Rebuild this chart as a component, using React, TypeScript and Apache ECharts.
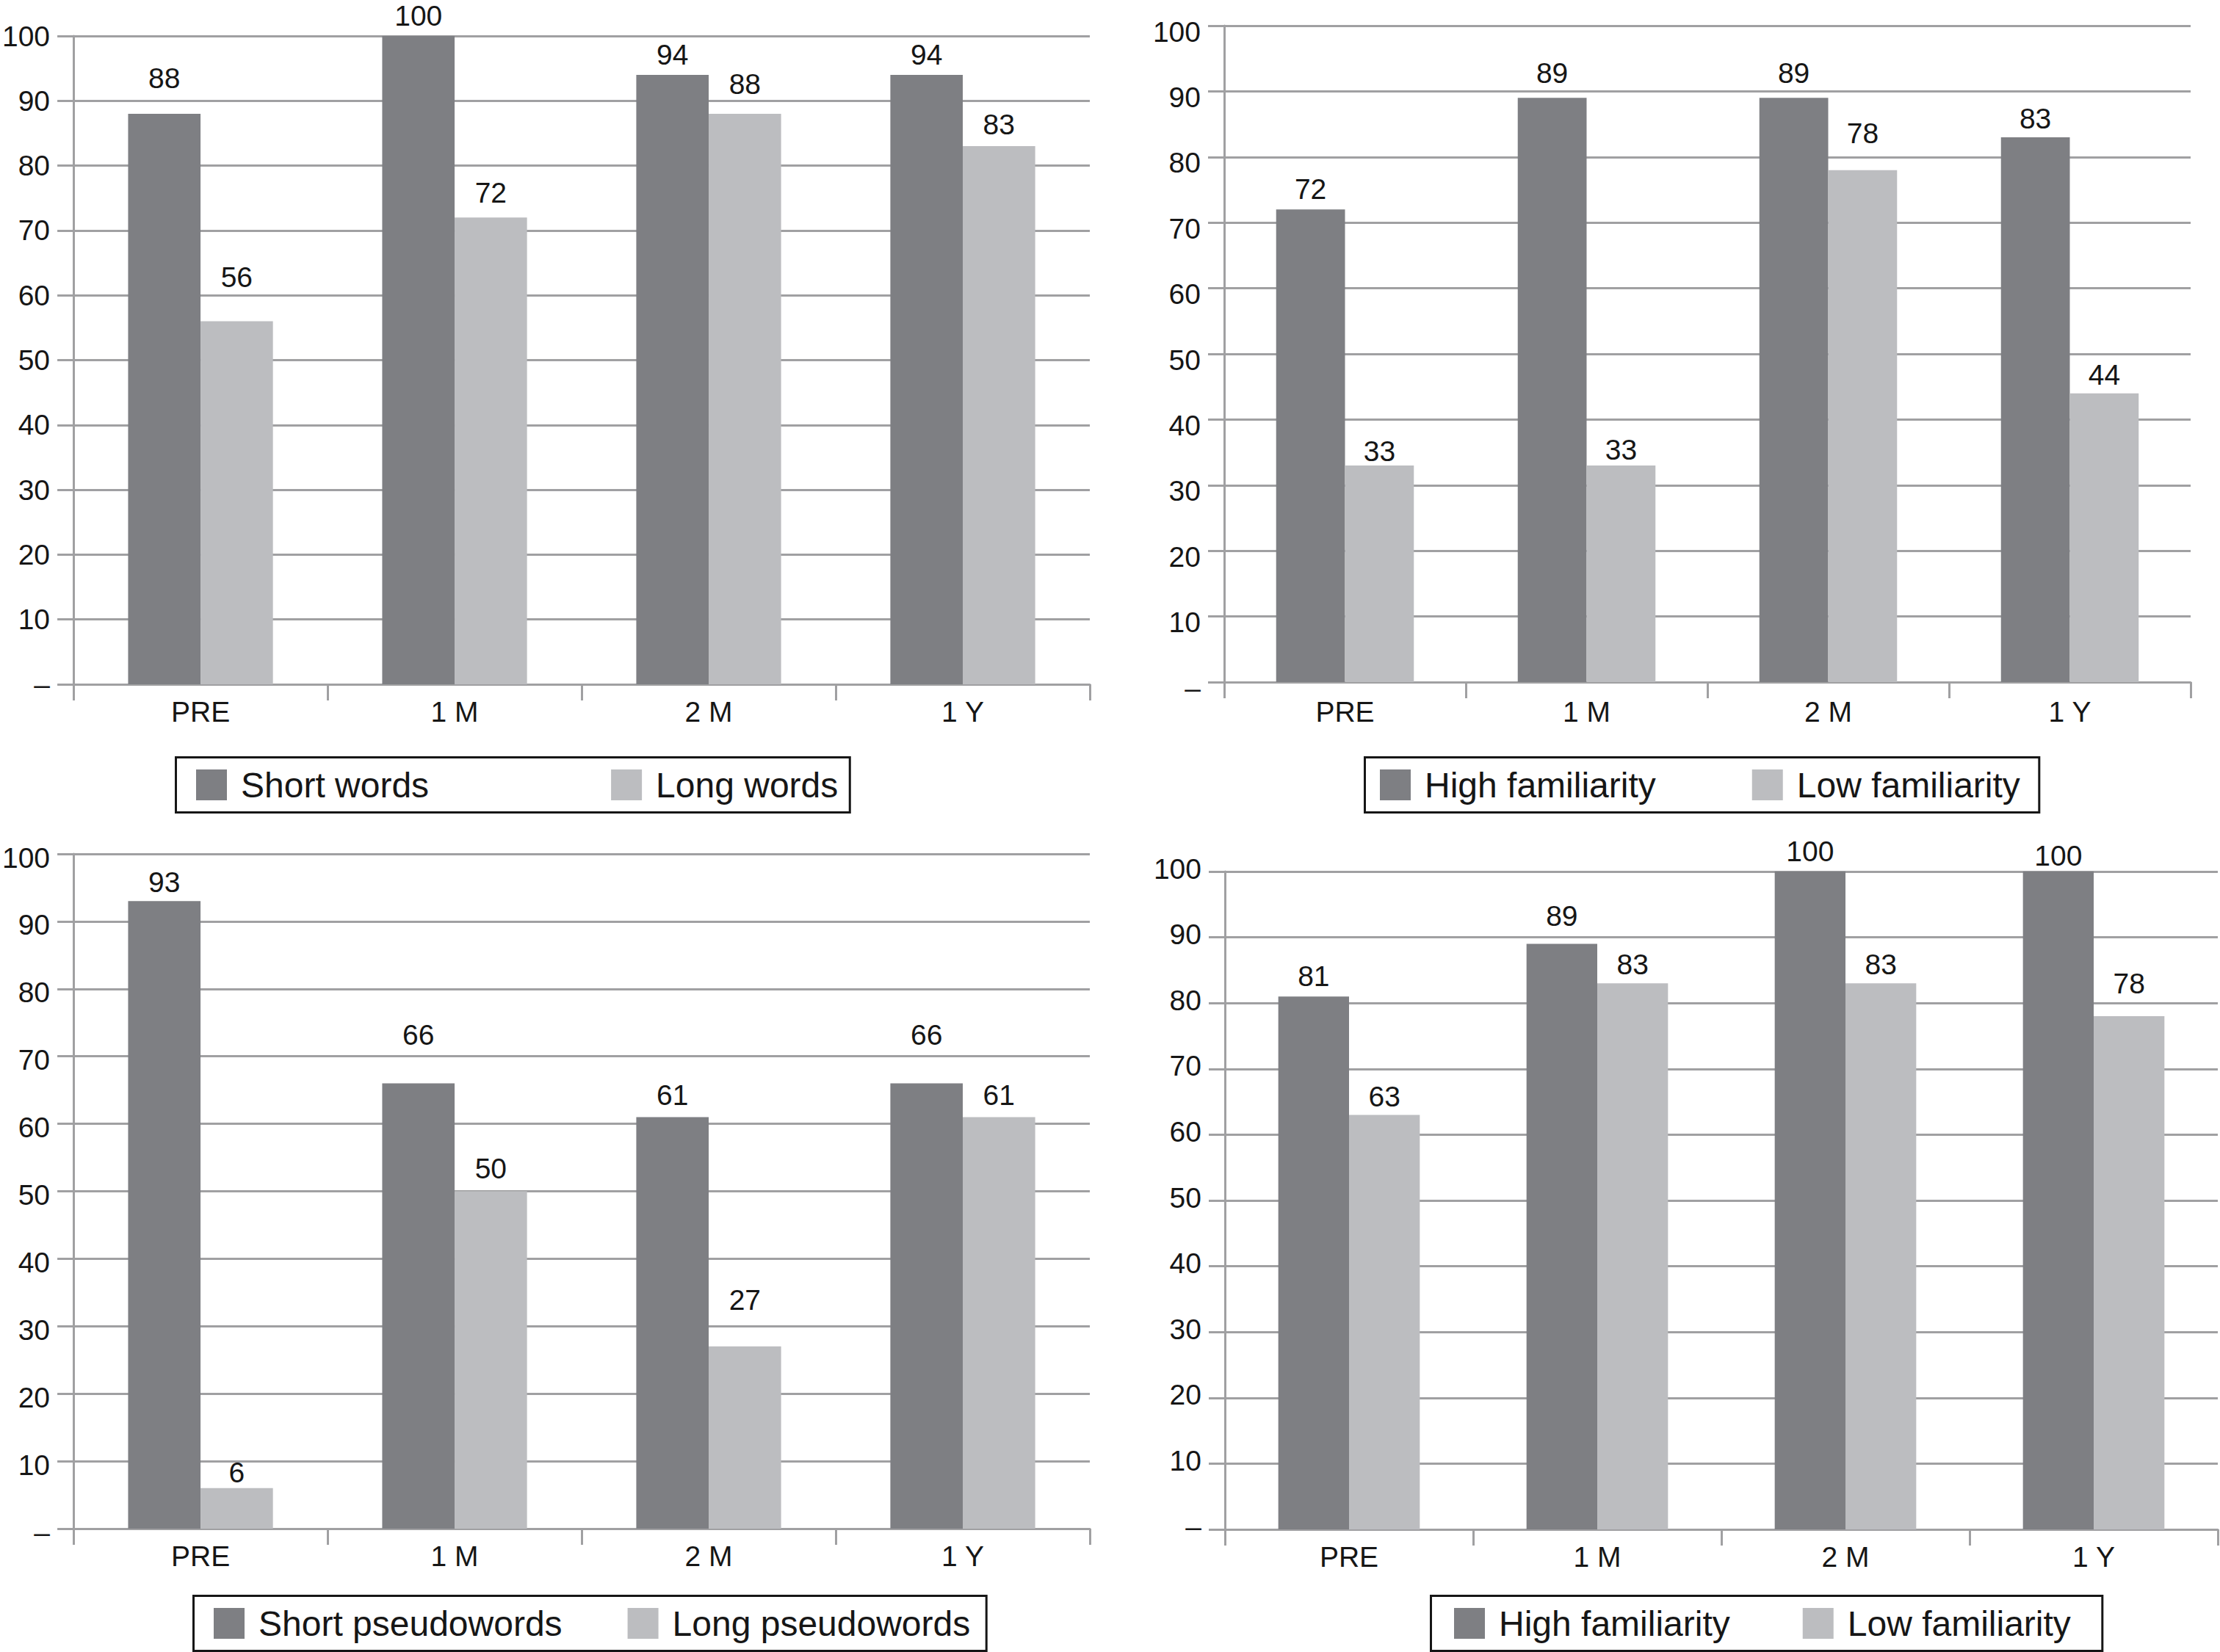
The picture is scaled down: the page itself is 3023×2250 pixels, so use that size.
import { useEffect, useRef } from "react";
import * as echarts from "echarts";

const categories = ["PRE", "1 M", "2 M", "1 Y"];

const shortWords = [88, 100, 94, 94];
const longWords = [56, 72, 88, 83];

const highFamWords = [72, 89, 89, 83];
const lowFamWords = [33, 33, 78, 44];

const shortPseudo = [93, 66, 61, 66];
const longPseudo = [6, 50, 27, 61];

const highFamPseudo = [81, 89, 100, 100];
const lowFamPseudo = [63, 83, 83, 78];

const yMin = 0;
const yMax = 100;
const yStep = 10;

const DARK = "#7e7f83";
const LIGHT = "#bcbdc0";
const GRIDC = "#a0a0a2";
const INK = "#161616";
const FONT = "Liberation Sans, Arial, sans-serif";

// layout of the four panels (pixels on the 3023x2250 page)
// labelRaise: extra lift of each value label above its bar, as in the original
const panels = [
  {
    names: ["Short words", "Long words"],
    data: [shortWords, longWords],
    grid: { left: 100, top: 49, width: 1384, height: 883 },
    labelShift: 0,
    xMargin: 18,
    labelRaise: [[23, 2, 2, 2], [35, 8, 15, 4]],
    legend: { left: 239.5, top: 1031.5, pad: [13.5, 16, 13.5, 27.5], gap: 248 },
  },
  {
    names: ["High familiarity", "Low familiarity"],
    data: [highFamWords, lowFamWords],
    grid: { left: 1667, top: 35, width: 1316, height: 894 },
    labelShift: 8,
    xMargin: 21,
    labelRaise: [[2, 8, 8, 0], [-6, -4, 25, 0]],
    legend: { left: 1858.5, top: 1031.5, pad: [13.5, 26, 13.5, 20.5], gap: 131 },
  },
  {
    names: ["Short pseudowords", "Long pseudowords"],
    data: [shortPseudo, longPseudo],
    grid: { left: 100, top: 1163, width: 1384, height: 919 },
    labelShift: 5,
    xMargin: 18,
    labelRaise: [[0, 40, 4, 40], [-4, 6, 38, 4]],
    legend: { left: 263.5, top: 2173.5, pad: [13.5, 22, 13.5, 27.5], gap: 89 },
  },
  {
    names: ["High familiarity", "Low familiarity"],
    data: [highFamPseudo, lowFamPseudo],
    grid: { left: 1668, top: 1187, width: 1352, height: 896 },
    labelShift: -4,
    xMargin: 18,
    labelRaise: [[2, 13, 2, -4], [0, 0, 0, 19]],
    legend: { left: 1948.5, top: 2173.5, pad: [13.5, 43, 13.5, 31.5], gap: 99 },
  },
];

export default function App() {
  const ref = useRef<HTMLDivElement>(null);

  useEffect(() => {
    if (!ref.current) return;
    const chart = echarts.init(ref.current, null, { renderer: "svg" });

    const grid: any[] = [];
    const xAxis: any[] = [];
    const yAxis: any[] = [];
    const series: any[] = [];
    const legend: any[] = [];

    panels.forEach((p, i) => {
      grid.push({ ...p.grid });
      xAxis.push({
        type: "category",
        gridIndex: i,
        data: categories,
        axisLine: { show: true, lineStyle: { color: GRIDC, width: 3 } },
        axisTick: { show: true, length: 22, lineStyle: { color: GRIDC, width: 3 } },
        axisLabel: { color: INK, fontSize: 39, fontFamily: FONT, margin: p.xMargin },
      });
      const s = p.labelShift;
      yAxis.push({
        type: "value",
        gridIndex: i,
        min: yMin,
        max: yMax,
        interval: yStep,
        axisLine: { show: true, lineStyle: { color: GRIDC, width: 3 } },
        axisTick: { show: true, length: 22, lineStyle: { color: GRIDC, width: 3 } },
        splitLine: { show: true, lineStyle: { color: GRIDC, width: 3 } },
        axisLabel: {
          color: INK,
          fontSize: 39,
          fontFamily: FONT,
          margin: 32,
          formatter: (v: number) => `{t|${v === 0 ? "–" : String(v)}}`,
          rich: {
            t: {
              color: INK,
              fontSize: 39,
              fontFamily: FONT,
              padding: s >= 0 ? [2 * s, 0, 0, 0] : [0, 0, -2 * s, 0],
            },
          },
        },
      });
      p.names.forEach((name, k) => {
        series.push({
          type: "bar",
          name,
          xAxisIndex: i,
          yAxisIndex: i,
          data: p.data[k].map((v, j) => ({
            value: v,
            label: { offset: [0, -p.labelRaise[k][j]] },
          })),
          barWidth: "28.5%",
          barGap: "0%",
          itemStyle: { color: k === 0 ? DARK : LIGHT },
          label: {
            show: true,
            position: "top",
            distance: 6,
            color: INK,
            fontSize: 39,
            fontFamily: FONT,
          },
        });
      });
      legend.push({
        data: p.names,
        left: p.legend.left,
        top: p.legend.top,
        orient: "horizontal",
        selectedMode: false,
        borderColor: INK,
        borderWidth: 3,
        padding: p.legend.pad,
        itemWidth: 42,
        itemHeight: 42,
        itemGap: p.legend.gap,
        icon: "rect",
        textStyle: { color: INK, fontSize: 48, lineHeight: 48, fontFamily: FONT, padding: [0, 0, 0, 14] },
      });
    });

    chart.setOption({
      animation: false,
      backgroundColor: "#ffffff",
      grid,
      xAxis,
      yAxis,
      series,
      legend,
    });

    return () => chart.dispose();
  }, []);

  return <div ref={ref} style={{ position: "fixed", left: 0, top: 0, width: 3023, height: 2250 }} />;
}
